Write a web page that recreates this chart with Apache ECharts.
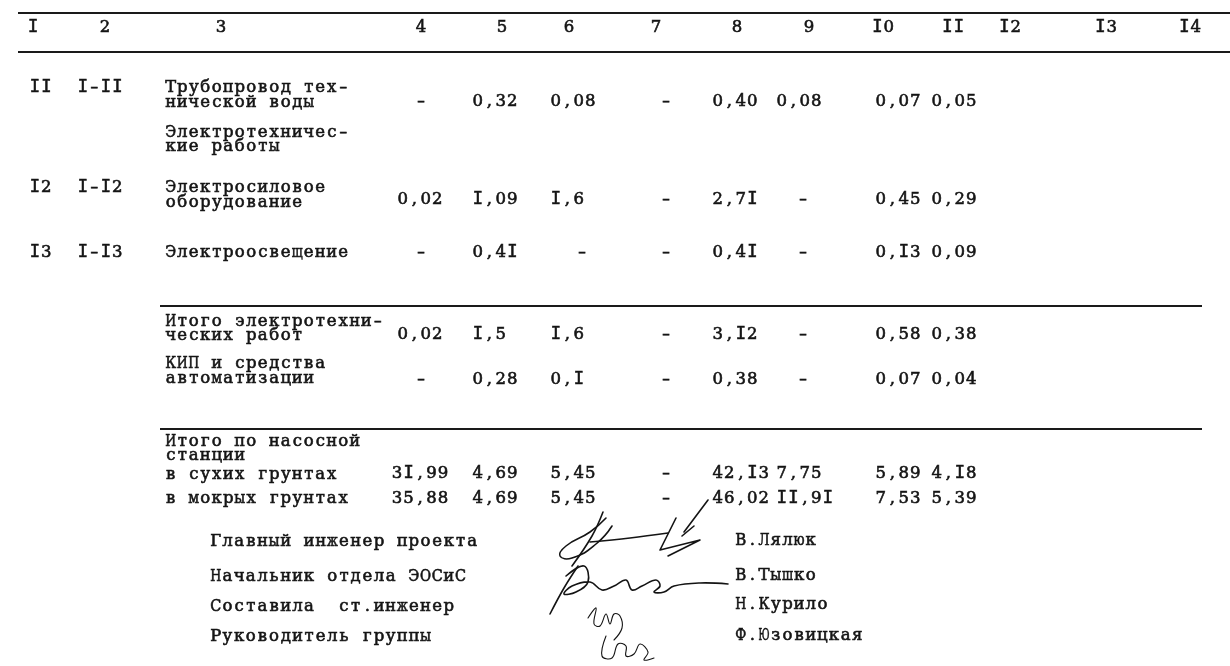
<!DOCTYPE html>
<html>
<head>
<meta charset="utf-8">
<script src="https://cdn.jsdelivr.net/npm/echarts@6/dist/echarts.min.js"></script>
<style>
html,body{margin:0;padding:0;background:#fff;}
#chart{width:1230px;height:666px;}
</style>
</head>
<body>
<div id="chart"></div>
<script>
// ---------- DATA ----------
const columnNumbers = ['I','2','3','4','5','6','7','8','9','I0','II','I2','I3','I4'];
const itemCodes = ['II','I2','I3'];
const itemIds = ['I-II','I-I2','I-I3'];
const rowLabels = [
  ['Трубопровод тех-','нической воды'],
  ['Электротехничес-','кие работы'],
  ['Электросиловое','оборудование'],
  ['Электроосвещение'],
  ['Итого электротехни-','ческих работ'],
  ['КИП и средства','автоматизации'],
  ['Итого по насосной','станции'],
  ['в сухих грунтах'],
  ['в мокрых грунтах']
];
const col4  = ['-',    '', '0,02', '-',    '0,02', '-',    '', '3I,99', '35,88'];
const col5  = ['0,32', '', 'I,09', '0,4I', 'I,5',  '0,28', '', '4,69',  '4,69'];
const col6  = ['0,08', '', 'I,6',  '-',    'I,6',  '0,I',  '', '5,45',  '5,45'];
const col7  = ['-',    '', '-',    '-',    '-',    '-',    '', '-',     '-'];
const col8  = ['0,40', '', '2,7I', '0,4I', '3,I2', '0,38', '', '42,I3', '46,02'];
const col9  = ['0,08', '', '-',    '-',    '-',    '-',    '', '7,75',  'II,9I'];
const col10 = ['0,07', '', '0,45', '0,I3', '0,58', '0,07', '', '5,89',  '7,53'];
const col11 = ['0,05', '', '0,29', '0,09', '0,38', '0,04', '', '4,I8',  '5,39'];
const signPositions = ['Главный инженер проекта','Начальник отдела ЭОСиС','Составила  ст.инженер','Руководитель группы'];
const signNames = ['В.Лялюк','В.Тышко','Н.Курило','Ф.Юзовицкая'];

// ---------- LAYOUT ----------
const W = 1230, H = 666;
const FONT = '16.5px "DejaVu Serif", "Liberation Serif", serif';
const FONT_I = '17px "DejaVu Sans Mono", "Liberation Mono", monospace';
const CELL = 11.5;       // typewriter character pitch
const CELL_SIGN = 11.65; // pitch of the signature block
const INK = '#141414';
const headerX = [33,105,221,421,502,569,656,737,809,883,953,1010,1106,1190];
const HEADER_Y = 28;
const CODE1_X = 29, CODE2_X = 77, TEXT_X = 165;
const codeRows = [0,2,3];
const rowLineY = [[88,103],[133,147],[188,203],[253],[322,336],[364,379],[442,456],[475],[499]];
const valueY   = [102, null, 200, 253, 335, 380, null, 474, 499];
const valueCols = [col4,col5,col6,col7,col8,col9,col10,col11];
const numX    = [420, 472, 550, null, 712, 776, 875, 931];
const numAlign= ['center','left','left','left','left','left','left','left'];
const dashX   = [421, 490, 582, 666, 735, 803, 897, 954];
const signY = [542, 577, 607, 637];
const nameY = [541, 576, 605, 636];
const SIGN_X = 210, NAME_X = 735;
const rules = [ // [x1, x2, y]
  [18, 1230, 13], [18, 1230, 52], [160, 1202, 306], [160, 1202, 429]
];

// ---------- BUILD TEXT ITEMS ----------
const items = [];
columnNumbers.forEach((t,i)=>items.push({x:headerX[i], y:HEADER_Y, text:t, align:'center'}));
codeRows.forEach((r,i)=>{
  items.push({x:CODE1_X, y:rowLineY[r][0], text:itemCodes[i], align:'left'});
  items.push({x:CODE2_X, y:rowLineY[r][0], text:itemIds[i], align:'left'});
});
rowLabels.forEach((lines,r)=>lines.forEach((t,k)=>items.push({x:TEXT_X, y:rowLineY[r][k], text:t, align:'left'})));
valueCols.forEach((col,c)=>col.forEach((v,r)=>{
  if(!v) return;
  if(v==='-') items.push({x:dashX[c], y:valueY[r], text:'-', align:'center'});
  else items.push({x:numX[c], y:valueY[r], text:v, align:numAlign[c]});
}));
signPositions.forEach((t,i)=>items.push({x:SIGN_X, y:signY[i], text:t, align:'left', pitch:CELL_SIGN}));
signNames.forEach((t,i)=>items.push({x:NAME_X, y:nameY[i], text:t, align:'left', pitch:CELL_SIGN}));

// glyph width measurement so wide letters fit in a typewriter cell
const mctx = document.createElement('canvas').getContext('2d');
const scaleCache = {};
function fontFor(ch){ return ch === 'I' ? FONT_I : FONT; }
function glyphScale(ch, pitch){
  if(ch === '-') return 1.45;
  const k = ch + pitch;
  if(scaleCache[k] == null){
    mctx.font = fontFor(ch);
    const w = mctx.measureText(ch).width;
    scaleCache[k] = w > pitch - 0.6 ? (pitch - 0.6) / w : 1;
  }
  return scaleCache[k];
}

// hand-written signatures (decorative ink strokes)
const strokes = [
  {p:[[606,518],[590,532],[566,546],[560,556],[572,558],[596,544],[612,526]], s:0.5, w:1.6},
  {p:[[603,512],[592,536],[572,566]], s:0.4, w:1.6},
  {p:[[590,542],[630,538],[668,533]], s:0.4, w:1.6},
  {p:[[676,518],[660,550],[700,540],[668,556]], s:0, w:1.6},
  {p:[[682,536],[694,526]], s:0, w:1.6},
  {p:[[708,500],[684,532]], s:0, w:1.6},
  {p:[[578,566],[564,588],[550,614]], s:0.4, w:1.6},
  {p:[[566,576],[584,566],[588,582],[576,592],[564,594],[572,586],[590,582],[602,590],[614,586],[626,580],[632,590],[642,586],[656,580],[660,586],[654,592],[664,592],[674,586],[700,583],[728,584]], s:0.4, w:1.6},
  {p:[[588,618],[596,608],[594,624],[600,626],[606,614],[610,624],[614,614],[620,616],[622,628],[614,640]], s:0.4, w:1.1},
  {p:[[606,636],[602,656],[612,658],[618,644],[626,646],[626,656],[634,654],[640,644],[648,652],[644,660],[654,658]], s:0.4, w:1.1}
];

const chart = echarts.init(document.getElementById('chart'), null, {renderer:'canvas'});
chart.setOption({
  animation:false,
  backgroundColor:'#ffffff',
  grid:{left:0,right:0,top:0,bottom:0},
  xAxis:{type:'value', min:0, max:W, show:false},
  yAxis:{type:'value', min:0, max:H, inverse:true, show:false},
  series:[
    {
      type:'custom', clip:false, silent:true,
      data: rules.map(r=>[r[0], r[2], r[1]]),
      renderItem:(params, api)=>{
        const a = api.coord([api.value(0), api.value(1)]);
        const b = api.coord([api.value(2), api.value(1)]);
        return {type:'line', shape:{x1:a[0], y1:a[1], x2:b[0], y2:b[1]}, style:{stroke:'#1a1a1a', lineWidth:2}};
      }
    },
    {
      type:'custom', clip:false, silent:true,
      data: items.map(d=>[d.x, d.y]),
      renderItem:(params, api)=>{
        const it = items[params.dataIndex];
        const p = api.coord([api.value(0), api.value(1)]);
        const pitch = it.pitch || CELL;
        const chars = Array.from(it.text);
        const start = it.align === 'center' ? -chars.length * pitch / 2 : 0;
        const children = [];
        chars.forEach((ch,i)=>{
          if(ch === ' ') return;
          children.push({
            type:'text',
            x: start + i * pitch + pitch / 2, y: 0,
            scaleX: glyphScale(ch, pitch),
            style:{text:ch, x:0, y:0, font:fontFor(ch), fill:INK, stroke:INK, lineWidth:0.6, align:'center', verticalAlign:'middle'}
          });
        });
        return {type:'group', x:p[0], y:p[1], children};
      }
    }
  ],
  graphic: strokes.map(st=>({
    type:'polyline', silent:true,
    shape:{points:st.p, smooth:st.s},
    style:{stroke:INK, fill:null, lineWidth:st.w, lineCap:'round', lineJoin:'round'}
  }))
});
</script>
</body>
</html>
